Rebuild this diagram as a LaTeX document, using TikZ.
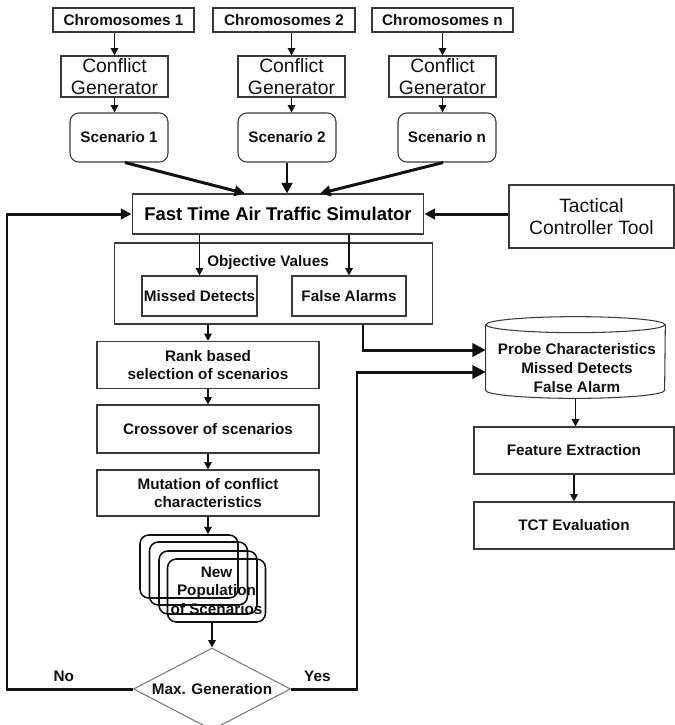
\documentclass[tikz,border=0pt]{standalone}
\usepackage{fontspec}
\setmainfont{Liberation Sans}
\usetikzlibrary{arrows.meta,positioning,calc,shapes.geometric}
\definecolor{FlowInk}{HTML}{111111}
\definecolor{FlowEdge}{HTML}{3A3A3A}
\definecolor{FlowGrey}{HTML}{7A7A7A}
\tikzset{
  figsmall/.style={font=\bfseries\fontsize{8.7}{10.4}\selectfont, text=FlowInk},
  figlarge/.style={font=\fontsize{11}{12.8}\selectfont, text=FlowInk},
  figbox/.style={draw=FlowEdge, line width=0.6pt, inner sep=0pt, align=center},
  roundbox/.style={figbox, rounded corners=5pt},
  popbox/.style={roundbox, draw=FlowInk, line width=0.9pt, minimum width=1.96cm, minimum height=1.26cm},
  figarrow/.style={-{Triangle[length=4.2pt,width=4.2pt]}, line width=1.1pt, draw=FlowInk},
  figflow/.style={-{Triangle[length=6pt,width=6pt]}, line width=1.7pt, draw=FlowInk},
  bighead/.style={-{Triangle[length=7.5pt,width=7.5pt]}}
}
\begin{document}
\begin{tikzpicture}[x=0.02cm, y=-0.02cm]
\useasboundingbox (0,0) rectangle (675,725);
% chromosomes and generators
\node[figbox, figsmall, minimum width=2.82cm, minimum height=0.48cm] (chrom1) at (123.5,20) {Chromosomes 1};
\node[figbox, figsmall, minimum width=2.84cm, minimum height=0.48cm] (chrom2) at (284,20) {Chromosomes 2};
\node[figbox, figsmall, minimum width=2.82cm, minimum height=0.48cm] (chromn) at (442.5,20) {Chromosomes n};
\node[figbox, figlarge, minimum width=2.14cm, minimum height=0.82cm] (gen1) at (114.5,76.5) {Conflict\\Generator};
\node[figbox, figlarge, minimum width=2.14cm, minimum height=0.82cm] (gen2) at (291.5,76.5) {Conflict\\Generator};
\node[figbox, figlarge, minimum width=2.14cm, minimum height=0.82cm] (genn) at (442.5,76.5) {Conflict\\Generator};
\node[roundbox, figsmall, minimum width=1.96cm, minimum height=0.98cm] (scen1) at (119,137.5) {Scenario 1};
\node[roundbox, figsmall, minimum width=1.96cm, minimum height=0.98cm] (scen2) at (287,137.5) {Scenario 2};
\node[roundbox, figsmall, minimum width=1.96cm, minimum height=0.98cm] (scenn) at (447,137.5) {Scenario n};
% simulator
\node[figbox, minimum width=5.84cm, minimum height=0.8cm, font=\bfseries\fontsize{10.5}{12}\selectfont] (sim) at (278,214) {Fast Time Air Traffic Simulator};
\node[figbox, figlarge, minimum width=3.3cm, minimum height=1.26cm] (tct) at (591.5,216.5) {Tactical\\Controller Tool};
\node[figbox, minimum width=6.38cm, minimum height=1.62cm] (obj) at (273.5,283.5) {};
\node[figsmall] (objlabel) at (268,263) {Objective Values};
\node[figbox, figsmall, minimum width=2.3cm, minimum height=0.8cm] (missed) at (199.5,296) {Missed Detects};
\node[figbox, figsmall, minimum width=2.28cm, minimum height=0.8cm] (alarms) at (349,296) {False Alarms};
% genetic loop
\node[figbox, figsmall, minimum width=4.44cm, minimum height=0.94cm] (rank) at (208,365) {Rank based\\selection of scenarios};
\node[figbox, figsmall, minimum width=4.44cm, minimum height=0.96cm] (cross) at (208,429) {Crossover of scenarios};
\node[figbox, figsmall, minimum width=4.44cm, minimum height=0.92cm] (mutate) at (208,493) {Mutation of conflict\\characteristics};
\foreach \i/\x/\y in {1/189/566.5, 2/198.5/573.5, 3/208/582.5}
  \node[popbox] (pop\i) at (\x,\y) {};
\node[popbox, figsmall, font=\bfseries\fontsize{8.7}{10.5}\selectfont] (pop4) at (216.5,590.5) {New\\Population\\of Scenarios};
\node[diamond, draw=FlowGrey, line width=0.6pt, aspect=1.9, inner sep=0pt, minimum width=3.14cm, minimum height=1.64cm, figsmall] (maxgen) at (212,689) {Max. Generation};
% probe data store
\node[minimum width=3.58cm, minimum height=1.3cm, inner sep=0pt] (probe) at (575.5,357.5) {};
\draw[FlowEdge, line width=0.6pt] (probe.north west) -- (probe.south west)
  arc[start angle=180, end angle=360, x radius=1.79cm, y radius=0.16cm] -- (probe.north east);
\draw[FlowEdge, line width=0.6pt] (probe.north) ellipse[x radius=1.79cm, y radius=0.16cm];
\node[figsmall, align=center, font=\bfseries\fontsize{8.7}{10.6}\selectfont] (probetext) at (577,368) {Probe Characteristics\\Missed Detects\\False Alarm};
\node[figbox, figsmall, minimum width=4cm, minimum height=0.94cm] (feature) at (574,450.5) {Feature Extraction};
\node[figbox, figsmall, minimum width=4cm, minimum height=0.94cm] (tcteval) at (574,525.5) {TCT Evaluation};
\coordinate (noturn) at (7,689);
\coordinate (yesturn) at (357,689);
\coordinate (outturn) at (363,350);
% connectors
\draw[figarrow] (gen1.north |- chrom1.south) -- (gen1.north);
\draw[figarrow] (gen2.north |- chrom2.south) -- (gen2.north);
\draw[figarrow] (genn.north |- chromn.south) -- (genn.north);
\draw[figarrow] (gen1.south) -- (gen1.south |- scen1.north);
\draw[figarrow] (gen2.south) -- (gen2.south |- scen2.north);
\draw[figarrow] (genn.south) -- (genn.south |- scenn.north);
\draw[figflow] ($(scen1.south)+(6,0)$) -- ($(sim.north)+(-33,0)$);
\draw[figflow] (scen2.south) -- (scen2.south |- sim.north);
\draw[figflow] ($(scenn.south)+(-4,0)$) -- ($(sim.north)+(42,0)$);
\draw[figflow] (tct.west |- sim.east) -- (sim.east);
\draw[figarrow] (missed.north |- sim.south) -- (missed.north);
\draw[figarrow] (alarms.north |- sim.south) -- (alarms.north);
\draw[figarrow] (rank.north |- obj.south) -- (rank.north);
\draw[figarrow] (rank) -- (cross);
\draw[figarrow] (cross) -- (mutate);
\draw[figarrow] (mutate.south) -- (mutate.south |- pop1.north);
\draw[figarrow] (maxgen.north |- pop4.south) -- (maxgen.north);
\draw[figflow] (maxgen.west) -- node[pos=0.55, above, figsmall] (nolabel) {No} (noturn) |- (sim.west);
\draw[figflow, bighead] (maxgen.east) -- node[pos=0.4, above, figsmall] (yeslabel) {Yes} (yesturn) |- ($(probe.west)+(0,14.5)$);
\draw[figflow, bighead] (obj.south -| outturn) -- (outturn) -- (outturn -| probe.west);
\draw[figarrow] ($(probe.south)+(0,8)$) -- (probe.south |- feature.north);
\draw[figarrow] (feature) -- (tcteval);
\end{tikzpicture}
\end{document}
